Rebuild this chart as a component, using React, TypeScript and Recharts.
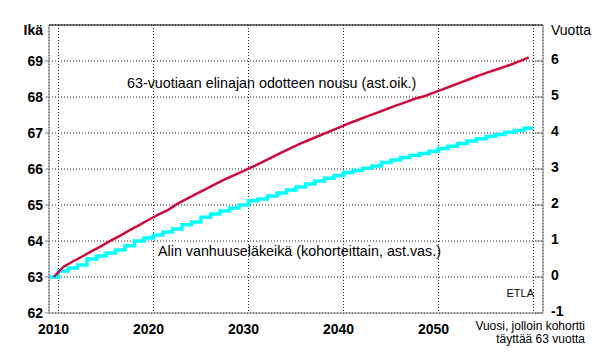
import React from 'react';
import {
  LineChart,
  Line,
  XAxis,
  YAxis,
  CartesianGrid,
  ReferenceLine,
  Customized
} from 'recharts';

// Cohort slot start years (each cohort takes one year slot on the x axis)
const cohortYears = [
  2009, 2010, 2011, 2012, 2013, 2014, 2015, 2016, 2017, 2018,
  2019, 2020, 2021, 2022, 2023, 2024, 2025, 2026, 2027, 2028,
  2029, 2030, 2031, 2032, 2033, 2034, 2035, 2036, 2037, 2038,
  2039, 2040, 2041, 2042, 2043, 2044, 2045, 2046, 2047, 2048,
  2049, 2050, 2051, 2052, 2053, 2054, 2055, 2056, 2057, 2058,
  2059
];

// Alin vanhuuseläkeikä, years (left axis)
const minRetirementAge = [
  63.0, 63.17, 63.25, 63.33, 63.5, 63.58, 63.67, 63.75, 63.87, 64.0,
  64.08, 64.17, 64.25, 64.33, 64.45, 64.53, 64.66, 64.75, 64.83, 64.92,
  65.0, 65.12, 65.17, 65.25, 65.33, 65.42, 65.5, 65.58, 65.67, 65.74,
  65.82, 65.9, 65.96, 66.02, 66.08, 66.18, 66.25, 66.32, 66.38, 66.43,
  66.49, 66.57, 66.63, 66.71, 66.78, 66.84, 66.9, 66.96, 67.02, 67.07,
  67.13
];

// 63-vuotiaan elinajan odotteen nousu, years (right axis)
const lifeExpGain = [
  0.0, 0.28, 0.43, 0.57, 0.72, 0.86, 1.01, 1.15, 1.3, 1.44,
  1.59, 1.73, 1.86, 2.03, 2.17, 2.31, 2.44, 2.58, 2.71, 2.83,
  2.95, 3.07, 3.2, 3.33, 3.46, 3.59, 3.71, 3.82, 3.93, 4.04,
  4.15, 4.26, 4.36, 4.46, 4.56, 4.66, 4.76, 4.85, 4.95, 5.02,
  5.12, 5.22, 5.32, 5.42, 5.52, 5.62, 5.71, 5.8, 5.89, 5.99,
  6.1
];

const yearTicks = [2010, 2020, 2030, 2040, 2050, 2060];
const minorYearTicks = Array.from({ length: 51 }, (_, i) => 2010 + i);
const ageTicks = [62, 63, 64, 65, 66, 67, 68, 69];
const gainTicks = [-1, 0, 1, 2, 3, 4, 5, 6];

const FONT = '"Liberation Sans", Arial, sans-serif';

// step line: each cohort value spans its slot, last slot closed at 2060
const ageData = cohortYears.map((year, i) => ({ x: year, age: minRetirementAge[i] }));
ageData.push({ x: 2060, age: minRetirementAge[minRetirementAge.length - 1] });

// life expectancy gain drawn at the middle of each slot
const gainData = cohortYears.map((year, i) => ({ x: year + 0.5, gain: lifeExpGain[i] }));

const Annotations = () => (
  <g style={{ fontFamily: FONT }}>
    <text x={43} y={35} textAnchor="end" fontSize={14} fontWeight="bold" fill="#000">Ikä</text>
    <text x={551} y={35} fontSize={14} fill="#000">Vuotta</text>
    <text x={127} y={88} fontSize={14.3} fill="#000">
      63-vuotiaan elinajan odotteen nousu (ast.oik.)
    </text>
    <text x={158} y={256} fontSize={14.3} fill="#000">
      Alin vanhuuseläkeikä (kohorteittain, ast.vas.)
    </text>
    <text x={534} y={297} textAnchor="end" fontSize={11} fill="#000">ETLA</text>
    <text x={585} y={330} textAnchor="end" fontSize={12} fill="#000">Vuosi, jolloin kohortti</text>
    <text x={585} y={343} textAnchor="end" fontSize={12} fill="#000">täyttää 63 vuotta</text>
  </g>
);

export default function App() {
  const tickStyle = { fill: '#000', fontSize: 14, fontWeight: 'bold', fontFamily: FONT };

  return (
    <div style={{ position: 'absolute', left: 0, top: 0, width: 600, height: 363, background: '#fff' }}>
      <LineChart width={600} height={363} margin={{ top: 25, right: 0, bottom: 0, left: 0 }}>
        <CartesianGrid stroke="#222" strokeDasharray="1 2" />

        {/* yearly minor ticks, pointing up into the plot */}
        <XAxis
          xAxisId="minor"
          type="number"
          dataKey="x"
          domain={[2009, 2061]}
          ticks={minorYearTicks}
          tick={false}
          tickSize={-3}
          axisLine={false}
          stroke="#808080"
          height={0}
          allowDataOverflow
        />
        <XAxis
          type="number"
          dataKey="x"
          domain={[2009, 2061]}
          ticks={yearTicks}
          tickFormatter={(v) => (v === 2060 ? '' : String(v))}
          tickLine={false}
          tickSize={6}
          tickMargin={5}
          stroke="#808080"
          tick={{ ...tickStyle, dx: -5 }}
          height={50}
          allowDataOverflow
        />

        <YAxis
          type="number"
          domain={[62, 70]}
          ticks={ageTicks}
          width={49}
          stroke="#808080"
          tickSize={4}
          tickMargin={2}
          tick={tickStyle}
          allowDataOverflow
        />
        <YAxis
          yAxisId="right"
          orientation="right"
          type="number"
          domain={[-1, 7]}
          ticks={gainTicks}
          width={57}
          stroke="#808080"
          tickSize={-8}
          tickMargin={16}
          tick={{ ...tickStyle, dy: -2 }}
          allowDataOverflow
        />

        <ReferenceLine y={70} stroke="#000" strokeWidth={1} />

        <Line
          data={ageData}
          dataKey="age"
          type="stepAfter"
          stroke="#00ffff"
          strokeWidth={3.5}
          dot={false}
          isAnimationActive={false}
        />
        <Line
          yAxisId="right"
          data={gainData}
          dataKey="gain"
          type="linear"
          stroke="#cc0a3c"
          strokeWidth={2.5}
          dot={false}
          isAnimationActive={false}
        />

        <Customized component={Annotations} />
      </LineChart>
    </div>
  );
}
